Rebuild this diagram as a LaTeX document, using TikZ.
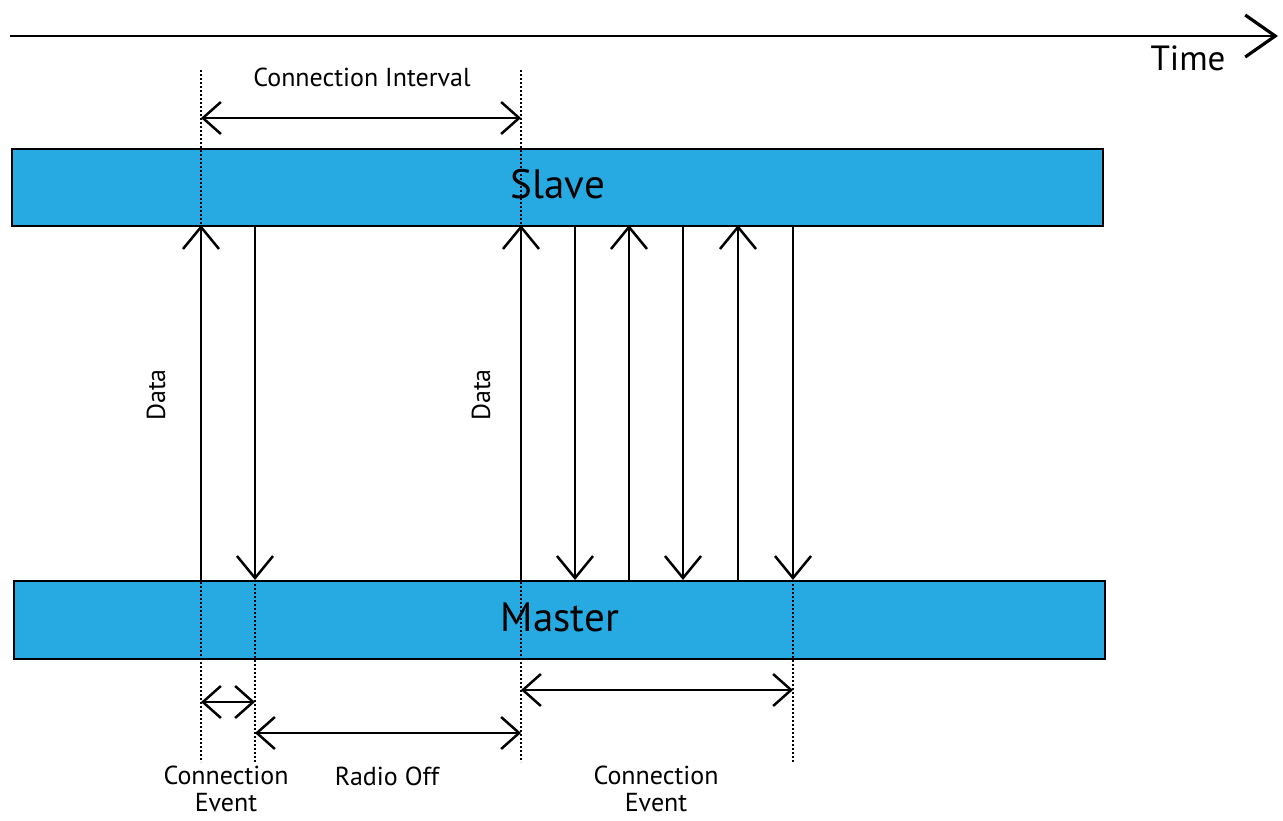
\documentclass[tikz,border=0pt]{standalone}
\usepackage{fontspec}
\setmainfont{PT Sans}
\usetikzlibrary{arrows.meta}
\definecolor{boxblue}{RGB}{39,170,225}
\begin{document}
\begin{tikzpicture}[x=1pt,y=-1pt,
  sig/.style={line width=2.2pt,-{Straight Barb[length=22pt,width=36pt,line width=2.5pt]}},
  span/.style={line width=2.2pt,{Straight Barb[length=18pt,width=32pt,line width=2.5pt]}-{Straight Barb[length=18pt,width=32pt,line width=2.5pt]}},
  guide/.style={line width=1.1pt,dash pattern=on 2pt off 2pt},
  bar/.style={draw=black,line width=2.2pt,fill=boxblue},
  lbl/.style={font=\fontsize{26}{31}\selectfont,align=center}]
\useasboundingbox (0,0) rectangle (1283,820);
% time axis
\coordinate (t0) at (10,36);
\coordinate (t1) at (1278,36);
\draw[line width=2.2pt,-{Straight Barb[length=30pt,width=42pt,line width=3.2pt]}] (t0) -- (t1);
\node[font=\fontsize{35}{40}\selectfont] (time) at (1188,58) {Time};
% boxes
\node[bar,minimum width=1091pt,minimum height=77pt,anchor=north west,inner sep=0pt] (slave) at (11,148) {};
\node[font=\fontsize{41}{46}\selectfont] (slavet) at (558,184) {Slave};
\node[bar,minimum width=1091pt,minimum height=78pt,anchor=north west,inner sep=0pt] (master) at (13,580) {};
\node[font=\fontsize{41}{46}\selectfont] (mastert) at (560,617) {Master};
% guides
\coordinate (g1a) at (201,70); \coordinate (g1b) at (201,762);
\coordinate (g3a) at (521,70); \coordinate (g3b) at (521,762);
\coordinate (g2a) at (255,580); \coordinate (g2b) at (255,762);
\coordinate (g4a) at (793,580); \coordinate (g4b) at (793,762);
\draw[guide] (g1a) -- (g1b);
\draw[guide] (g3a) -- (g3b);
\draw[guide] (g2a) -- (g2b);
\draw[guide] (g4a) -- (g4b);
% signals
\foreach \x in {201,521,629,738}{
  \coordinate (u\x a) at (\x,580); \coordinate (u\x b) at (\x,225);
  \draw[sig] (u\x a) -- (u\x b);}
\foreach \x in {255,575,683,793}{
  \coordinate (d\x a) at (\x,225); \coordinate (d\x b) at (\x,580);
  \draw[sig] (d\x a) -- (d\x b);}
\node[lbl,rotate=90] (data1) at (156,395) {Data};
\node[lbl,rotate=90] (data2) at (481,395) {Data};
% spans
\coordinate (ci1) at (201,118); \coordinate (ci2) at (521,118);
\draw[span] (ci1) -- (ci2);
\node[lbl] (cil) at (362,77) {Connection Interval};
\coordinate (ce1) at (201,702); \coordinate (ce2) at (255,702);
\draw[span] (ce1) -- (ce2);
\coordinate (ro1) at (255,733); \coordinate (ro2) at (521,733);
\draw[span] (ro1) -- (ro2);
\coordinate (cf1) at (521,690); \coordinate (cf2) at (793,690);
\draw[span] (cf1) -- (cf2);
\node[lbl,inner sep=0pt,anchor=base] (cel) at (226,784) {Connection};
\node[lbl,inner sep=0pt,anchor=base] (cel2) at (226,811) {Event};
\node[lbl] (rol) at (387,776) {Radio Off};
\node[lbl,inner sep=0pt,anchor=base] (cfl) at (656,784) {Connection};
\node[lbl,inner sep=0pt,anchor=base] (cfl2) at (656,811) {Event};
\end{tikzpicture}
\end{document}
